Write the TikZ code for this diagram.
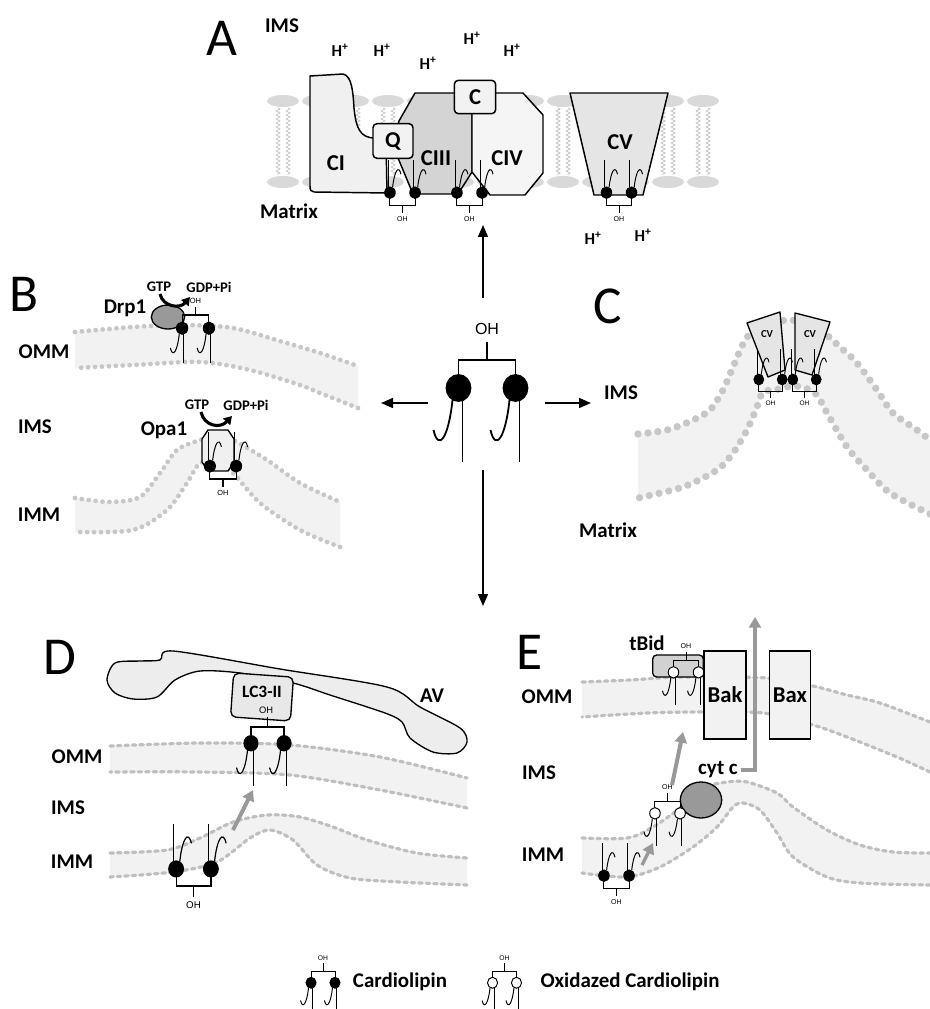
\documentclass[tikz,border=0pt]{standalone}
\usepackage{fontspec}
\setmainfont{Carlito}
\newfontfamily\ohfont{Liberation Sans}
\usetikzlibrary{arrows.meta,decorations.pathmorphing,shapes.geometric}

\tikzset{
  panel/.style={font=\fontsize{40}{40}\selectfont, inner sep=0pt},
  lbl/.style={font=\bfseries\fontsize{15.7}{15.7}\selectfont, inner sep=0pt},
  sublbl/.style={font=\bfseries\fontsize{11}{11}\selectfont, inner sep=0pt},
  hplus/.style={font=\bfseries\fontsize{12.5}{12.5}\selectfont, inner sep=0pt},
  protein/.style={draw=black, line width=1.1pt, line join=round},
  cbox/.style={draw, line width=1.1pt, fill=black!5, rounded corners=3pt,
    font=\bfseries\fontsize{17}{17}\selectfont, inner sep=0pt},
  protbox/.style={draw, line width=1pt, fill=black!5, inner sep=0pt,
    font=\bfseries\fontsize{17}{17}\selectfont},
  ohtext/.style={inner sep=0pt},
  lipidtail/.style={draw=black!25, line width=0.5pt, decorate,
    decoration={zigzag, segment length=3pt, amplitude=1.5pt}},
  bandfill/.style={fill=black!5},
  beads/.style={draw=black!22, line width=3.6pt, line cap=round, dash pattern=on 0pt off 5.2pt},
  bigbeads/.style={draw=black!22, line width=5.5pt, line cap=round, dash pattern=on 0pt off 7.5pt},
  dashbeads/.style={draw=black!25, line width=2.4pt, line cap=round, dash pattern=on 2.6pt off 3pt},
  mainarrow/.style={line width=1.1pt, -{Triangle[length=9pt,width=7.5pt]}},
  grayarrow/.style={draw=black!40, line width=3pt, -{Triangle[length=8pt,width=9pt]}},
  gtparrow/.style={line width=2.3pt, -{Triangle[length=6pt,width=7pt]}},
}

% cardiolipin: centre x, centre y, scale, angle, head fill, OH text
\newcommand{\cardio}[6]{%
  \pgfmathsetmacro{\clfs}{12*#3}%
  \pgfmathsetmacro{\cllw}{1.1*#3+0.25}%
  \begin{scope}[shift={(#1,#2)}, rotate=#4, scale=#3, line width=\cllw pt]
    \draw (0,-18) -- (0,0);
    \draw (-28.5,16) -- (-28.5,0) -- (28.5,0) -- (28.5,16);
    \foreach \clx in {0,57} {
      \draw (-24.5+\clx,40) -- (-24.5+\clx,102);
      \draw (-34.5+\clx,40) .. controls (-38.5+\clx,78) and (-48.5+\clx,92) .. (-53.5+\clx,70);
      \draw[fill=#5] (-28.5+\clx,28) ellipse [x radius=12, y radius=13];
    }
    \node[ohtext, font=\ohfont\fontsize{\clfs}{\clfs}\selectfont] at (0,-31) {#6};
  \end{scope}}

% membrane band: row style, upper points, lower points (right to left)
\newcommand{\membrane}[3]{%
  \fill[bandfill] plot[smooth] coordinates {#2} -- plot[smooth] coordinates {#3} -- cycle;
  \draw[#1] plot[smooth] coordinates {#2};
  \draw[#1] plot[smooth] coordinates {#3};}

\begin{document}
\begin{tikzpicture}[x=0.75pt,y=-0.75pt]
\useasboundingbox (0,0) rectangle (930,1009);

% ---------- A: respiratory chain ----------
\foreach \lx in {283,318,...,703} {
  \fill[black!15] (\lx,101) ellipse [x radius=16, y radius=6];
  \fill[black!15] (\lx,182) ellipse [x radius=16, y radius=6];
  \draw[lipidtail] (\lx-5,108) -- (\lx-5,175);
  \draw[lipidtail] (\lx+5,108) -- (\lx+5,175);
}
\draw[protein, fill=black!6] (310,76) -- (343,74) .. controls (352,76) and (353,92) .. (354,108)
  .. controls (356,128) and (360,138) .. (375,138) -- (386,140) -- (387,193) -- (314,192)
  .. controls (311,192) and (310,190) .. (310,186) -- cycle;
\draw[protein, fill=black!17] (415,93) -- (472,93) -- (472,172) -- (458,194) -- (413,194)
  -- (398,158) -- (394,140) -- (399,121) -- cycle;
\draw[protein, fill=black!4] (472,93) -- (523,93) -- (543,115) -- (543,173) -- (525,195)
  -- (490,195) -- (472,172) -- cycle;
\draw[protein, fill=black!10] (570,93) -- (668,93) -- (643,195) -- (594,195) -- cycle;
\node[cbox, minimum width=30pt, minimum height=26pt] (qbox) at (393,141) {Q};
\node[cbox, minimum width=31pt, minimum height=25pt] (cbox) at (475,97) {C};
\node[lbl, font=\bfseries\fontsize{17}{17}\selectfont] (ci) at (336,163) {CI};
\node[lbl, font=\bfseries\fontsize{17}{17}\selectfont] (ciii) at (436,158) {CIII};
\node[lbl, font=\bfseries\fontsize{17}{17}\selectfont] (civ) at (507,158) {CIV};
\node[lbl, font=\bfseries\fontsize{17}{17}\selectfont] (cv) at (620,142) {CV};
\cardio{402.5}{205}{0.44}{180}{black}{OH}
\cardio{469.5}{205}{0.44}{180}{black}{OH}
\cardio{619}{205}{0.44}{180}{black}{OH}
\node[panel] (pa) at (222,38) {A};
\node[lbl] (aims) at (282,26) {IMS};
\node[lbl] (amatrix) at (289,211) {Matrix};
\foreach \hx/\hy [count=\hi] in {340/50, 382/50, 428/63, 472/38, 512/50, 593/238, 643/235}
  \node[hplus] (hp\hi) at (\hx,\hy) {H\textsuperscript{+}};

% ---------- central cardiolipin ----------
\cardio{487}{360}{1}{0}{black}{OH}
\coordinate (clup) at (483,298);   \coordinate (aup) at (483,225);
\coordinate (clleft) at (428,403); \coordinate (aleft) at (381,403);
\coordinate (clright) at (545,403);\coordinate (aright) at (591,403);
\coordinate (cldown) at (483,470); \coordinate (adown) at (483,606);
\draw[mainarrow] (clup) -- (aup);
\draw[mainarrow] (clleft) -- (aleft);
\draw[mainarrow] (clright) -- (aright);
\draw[mainarrow] (cldown) -- (adown);

% ---------- B: fission / fusion ----------
\membrane{beads}{(75,332) (133,327) (183,325) (233,328) (283,342) (320,353) (358,366)}
  {(358,408) (320,393) (300,385) (250,370) (200,362) (133,365) (75,368)}
\membrane{beads}{(75,498) (110,502) (140,497) (160,473) (177,450) (200,440) (217,437)
  (233,440) (267,460) (300,483) (340,502)}
  {(340,547) (300,530) (260,503) (233,473) (217,463) (200,463) (187,483) (167,510)
  (133,530) (75,532)}
\node[ellipse, draw, line width=1pt, fill=black!40, minimum width=25pt, minimum height=18pt] (drp) at (168,317) {};
\cardio{195.5}{315}{0.47}{0}{black}{OH}
\draw[protein, line width=1pt, fill=black!6] (208,430) -- (228,430) -- (234,439) -- (234,462)
  -- (228,471) -- (208,471) -- (202,462) -- (202,439) -- cycle;
\cardio{223}{479}{0.46}{180}{black}{OH}
\node[panel] (pb) at (24,294) {B};
\node[lbl] (drplbl) at (125,308) {Drp1};
\node[sublbl] (gtpa) at (159,287) {GTP};
\node[sublbl] (gdpa) at (209,287) {GDP+Pi};
\draw[gtparrow] (160,294) .. controls (163,307) and (180,309) .. (190,297);
\node[lbl] (bomm) at (44,352) {OMM};
\node[lbl] (bims) at (35,427) {IMS};
\node[lbl] (bimm) at (39,515) {IMM};
\node[lbl] (opalbl) at (164,430) {Opa1};
\node[sublbl] (gtpb) at (197,405) {GTP};
\node[sublbl] (gdpb) at (246,405) {GDP+Pi};
\draw[gtparrow] (201,412) .. controls (204,426) and (220,429) .. (232,416);

% ---------- C: cristae shape ----------
\membrane{bigbeads}{(638,434) (667,430) (693,420) (710,410) (723,390) (733,367) (747,337)
  (765,325) (790,320) (815,326) (840,347) (857,363) (877,390) (893,413) (917,430) (930,440)}
  {(930,514) (890,493) (867,470) (847,447) (827,413) (815,393) (795,386) (775,390)
  (763,392) (757,407) (747,430) (733,453) (717,470) (683,487) (638,498)}
\draw[protein, line width=1pt, fill=black!10] (747,323) -- (780,312) -- (785,370) -- (768,377) -- cycle;
\draw[protein, line width=1pt, fill=black!10] (795,313) -- (830,322) -- (812,375) -- (795,370) -- cycle;
\node[lbl, font=\bfseries\fontsize{8}{8}\selectfont] (cva) at (767,334) {CV};
\node[lbl, font=\bfseries\fontsize{8}{8}\selectfont] (cvb) at (810,334) {CV};
\cardio{770.5}{391}{0.41}{180}{black}{OH}
\cardio{804.5}{391}{0.41}{180}{black}{OH}
\node[panel] (pc) at (608,306) {C};
\node[lbl] (cims) at (621,393) {IMS};
\node[lbl] (cmatrix) at (608,530) {Matrix};

% ---------- D: mitophagy ----------
\membrane{dashbeads}{(110,746) (200,743) (290,745) (380,757) (467,778)}
  {(467,808) (380,790) (290,775) (200,772) (110,772)}
\membrane{dashbeads}{(110,853) (167,850) (200,838) (233,822) (267,815) (300,817) (333,827)
  (367,840) (417,853) (467,858)}
  {(467,885) (400,882) (350,878) (317,865) (293,840) (270,830) (250,838) (217,862)
  (173,872) (110,877)}
\draw[protein, line width=1pt, fill=black!7] plot[smooth cycle, tension=0.5] coordinates {
  (107,680) (115,663) (140,661) (160,660) (173,651) (280,669) (387,687) (420,707) (460,728)
  (467,742) (457,753) (433,752) (410,738) (402,722) (385,713) (330,695) (293,683) (240,673)
  (200,671) (175,680) (157,697) (133,699) (115,693)};
\node[draw, line width=1pt, fill=black!9, rounded corners=4pt, rotate=-4,
  minimum width=45pt, minimum height=33pt] (lcbox) at (262,697) {};
\node[lbl, font=\bfseries\fontsize{13}{13}\selectfont] (lclbl) at (262,692) {LC3-II};
\node[ohtext, font=\ohfont\fontsize{7}{7}\selectfont] (lcoh) at (266,710) {OH};
\cardio{267.5}{727}{0.58}{0}{black}{}
\cardio{193.5}{886}{0.61}{180}{black}{OH}
\coordinate (dfrom) at (233,830); \coordinate (dto) at (253,790);
\draw[grayarrow] (dfrom) -- (dto);
\node[panel] (pd) at (60,657) {D};
\node[lbl] (avlbl) at (432,696) {AV};
\node[lbl] (domm) at (77,757) {OMM};
\node[lbl] (dims) at (68,808) {IMS};
\node[lbl] (dimm) at (72,862) {IMM};

% ---------- E: apoptosis ----------
\membrane{dashbeads}{(582,682) (630,680) (680,677) (767,678) (813,686) (847,695) (880,703) (930,722)}
  {(930,772) (897,757) (847,737) (813,725) (763,713) (700,712) (647,713) (582,717)}
\membrane{dashbeads}{(582,838) (627,838) (653,827) (680,808) (703,788) (727,782) (747,782)
  (777,793) (793,807) (827,830) (860,845) (893,852) (930,853)}
  {(930,885) (860,883) (827,877) (793,857) (777,833) (760,810) (743,803) (733,807)
  (717,827) (693,847) (660,867) (627,877) (582,873)}
\node[draw, line width=1pt, fill=black!18, rounded corners=3pt, minimum width=38pt,
  minimum height=16.5pt] (tbidbox) at (678,666) {};
\cardio{686}{660}{0.44}{0}{white}{OH}
\node[protbox, minimum width=31.5pt, minimum height=66pt] (bak) at (725,695) {Bak};
\node[protbox, minimum width=31pt, minimum height=66pt] (bax) at (790,695) {Bax};
\node[ellipse, draw, line width=1pt, fill=black!40, minimum width=31pt, minimum height=27pt] (cytc) at (701,800) {};
\cardio{667.5}{801}{0.44}{0}{white}{OH}
\cardio{616.5}{888}{0.44}{180}{black}{OH}
\node[lbl] (cytlbl) at (718,770) {cyt c};
\coordinate (cytout) at (755,617);
\draw[grayarrow, line width=3.5pt] ([xshift=2pt]cytlbl.east) -| (cytout);
\coordinate (efrom) at (672,785); \coordinate (eto) at (683,732);
\draw[grayarrow] (efrom) -- (eto);
\coordinate (esfrom) at (642,865); \coordinate (esto) at (653,843);
\draw[grayarrow, line width=2.5pt] (esfrom) -- (esto);
\node[panel] (pe) at (530,652) {E};
\node[lbl] (tbidlbl) at (647,643) {tBid};
\node[lbl] (eomm) at (547,697) {OMM};
\node[lbl] (eims) at (539,773) {IMS};
\node[lbl] (eimm) at (543,855) {IMM};

% ---------- legend ----------
\cardio{323}{971}{0.42}{0}{black}{OH}
\node[lbl] (legcl) at (400,982) {Cardiolipin};
\cardio{504.5}{971}{0.42}{0}{white}{OH}
\node[lbl] (legox) at (630,982) {Oxidazed Cardiolipin};
\end{tikzpicture}
\end{document}
